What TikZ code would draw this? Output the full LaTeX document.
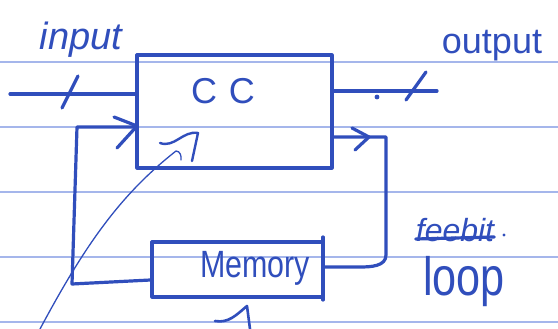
\documentclass[tikz,border=0pt]{standalone}
\usepackage{fontspec}
\setmainfont{Liberation Sans}
\definecolor{ink}{RGB}{48,78,188}
\definecolor{rule}{RGB}{165,182,235}
\begin{document}
\begin{tikzpicture}[x=1pt,y=-1pt,
  pen/.style={draw=ink,line width=3.2pt,line cap=round,line join=round},
  thinpen/.style={draw=ink,line width=1.3pt,line cap=round,line join=round},
  rulestyle/.style={draw=rule,line width=1.2pt},
  box/.style={pen,rectangle,inner sep=0pt},
  hand/.style={text=ink,inner sep=0pt,anchor=center}]
\useasboundingbox[fill=white] (0,0) rectangle (558,329);
% ruled paper lines
\foreach \yy in {62,127,192,257,322}
  \draw[rulestyle] (0,\yy) -- (558,\yy);
% boxes
\node[box,minimum width=195pt,minimum height=113pt] (cc) at (234.5,111.5) {};
\node[box,minimum width=171pt,minimum height=55pt] (mem) at (237.5,269.5) {};
\node[hand,font=\fontsize{36}{36}\selectfont] (cctext) at (223,91) {C\,\,C};
\node[hand,font=\fontsize{38}{38}\selectfont,xscale=0.8] (memtext) at (255,268) {Memory};
% extended right edge of memory box
\coordinate (mtr) at (323,237);
\coordinate (mbr) at (323,300);
\draw[pen] (mtr) -- (mbr);
% input
\coordinate (inS) at (10,94);
\draw[pen] (inS) -- (inS -| cc.west);
\coordinate (inA) at (62,108);
\coordinate (inB) at (78,76);
\draw[pen] (inA) -- (inB);
\node[hand,font=\itshape\fontsize{38}{38}\selectfont] (inlabel) at (81,40) {input};
% output
\coordinate (outE) at (437,91);
\draw[pen] (cc.east |- outE) -- (outE);
\coordinate (outA) at (406,100);
\coordinate (outB) at (426,72);
\draw[pen] (outA) -- (outB);
\coordinate (dot) at (377,97);
\fill[ink] (dot) circle (2.4pt);
\node[hand,font=\fontsize{36}{36}\selectfont] (outlabel) at (492,46) {output};
% feedback loop, right side
\coordinate (fbR) at (386,137);
\coordinate (fbD) at (386,255);
\coordinate (fbM) at (360,267);
\draw[pen] (cc.east |- fbR) -- (fbR) -- (fbD) to[out=90+180,in=0] (fbM) -- (fbM -| mtr);
\coordinate (chA) at (352,128);
\coordinate (chB) at (369,137);
\coordinate (chC) at (355,150);
\draw[pen] (chA) -- (chB) -- (chC);
% feedback loop, left side
\coordinate (lmL) at (72,284);
\coordinate (lmT) at (77,127);
\draw[pen] (mem.west |- 0,280) -- (lmL) -- (lmT) -- (lmT -| cc.west);
\coordinate (ahA) at (114,117);
\coordinate (ahB) at (137,126);
\coordinate (ahC) at (117,148);
\draw[pen] (ahA) -- (ahB) -- (ahC);
% thin pen stroke
\coordinate (tS) at (40,329);
\coordinate (tE) at (176,151);
\draw[thinpen] (tS) .. controls (85,245) and (120,195) .. (tE) to[out=0,in=80] (181,160);
\coordinate (sqA) at (160,143);
\coordinate (sqB) at (198,133);
\coordinate (sqC) at (192,161);
\draw[pen,line width=2.4pt] (sqA) to[out=-20,in=170] (sqB) -- (sqC);
% small mark below memory
\coordinate (mkA) at (215,321);
\coordinate (mkB) at (247,306);
\coordinate (mkC) at (250,329);
\draw[pen,line width=2.6pt] (mkA) to[out=-10,in=220] (mkB) -- (mkC);
% feebit (struck) and loop
\node[hand,font=\itshape\fontsize{32}{32}\selectfont] (fbtext) at (455,230) {feebit};
\draw[pen] (fbtext.west |- 0,239) -- (fbtext.east |- 0,237);
\fill[ink] (504,235) circle (1.6pt);
\node[hand,font=\fontsize{54}{54}\selectfont,xscale=0.8] (looptext) at (464,282) {loop};
\end{tikzpicture}
\end{document}
